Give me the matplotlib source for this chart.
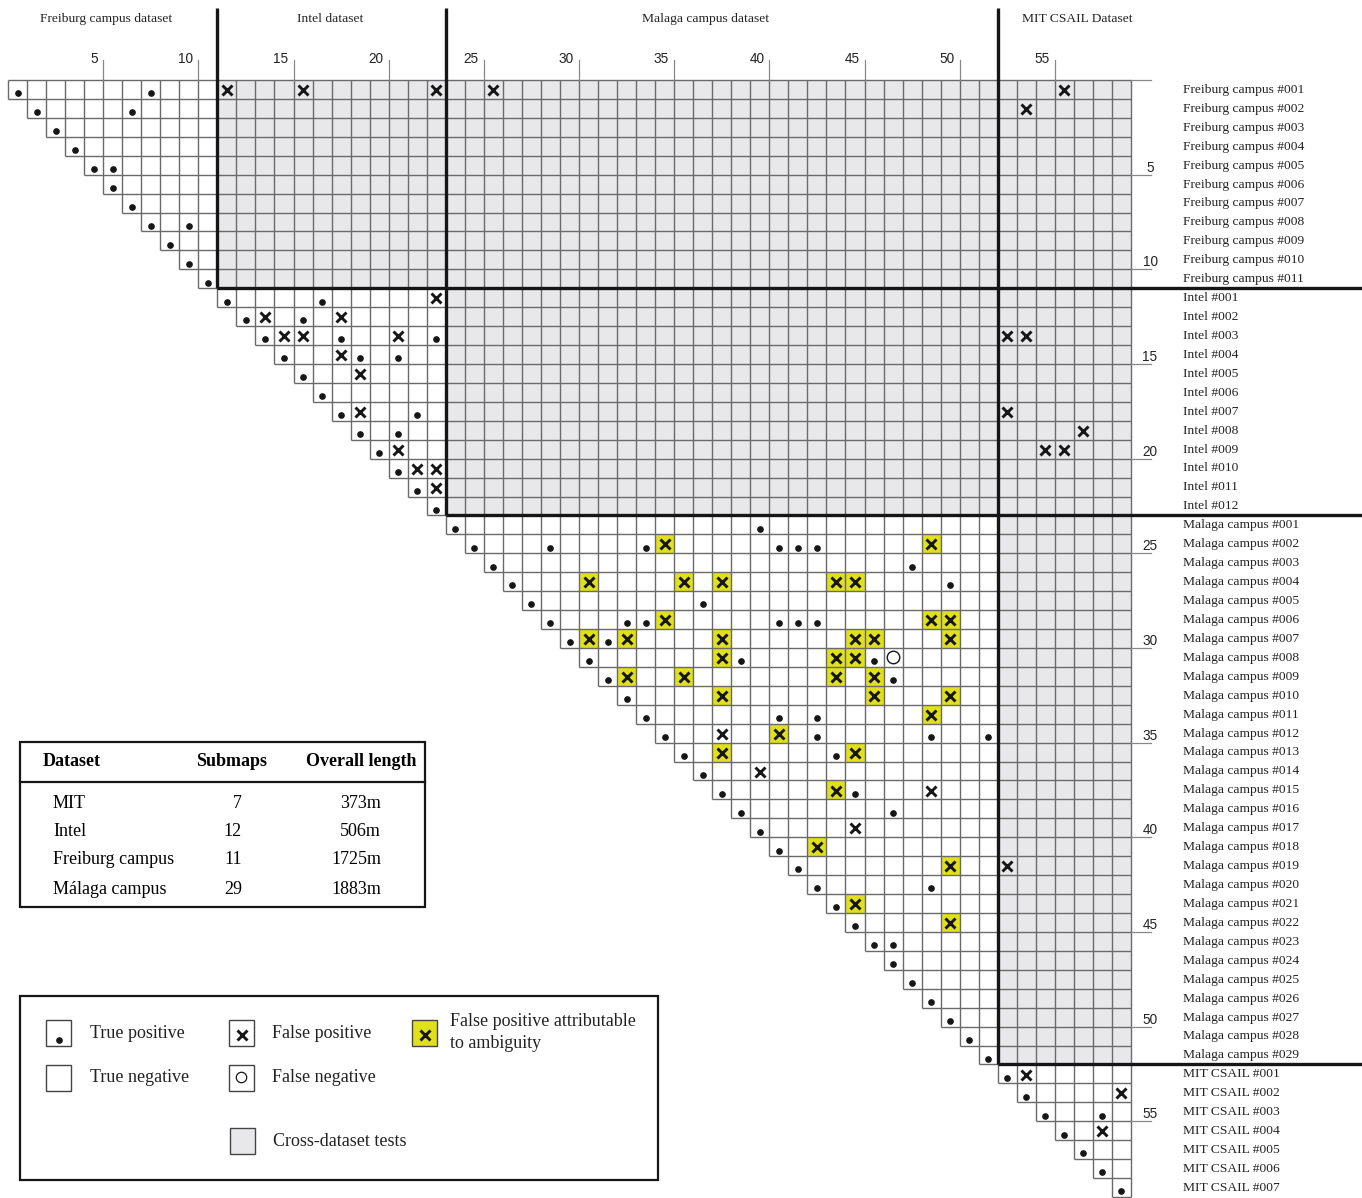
import matplotlib
matplotlib.use("Agg")
import matplotlib.pyplot as plt
from matplotlib.patches import Rectangle
from matplotlib.collections import LineCollection, PatchCollection

# submaps are numbered 1..59 in this dataset order
datasets = ["Freiburg campus", "Intel", "Malaga campus", "MIT CSAIL"]
headers = ["Freiburg campus dataset", "Intel dataset", "Malaga campus dataset", "MIT CSAIL Dataset"]
submaps = [11, 12, 29, 7]

# test outcomes, (row submap, column submap)
true_positive = [
    (1, 1), (1, 8), (2, 2), (2, 7), (3, 3), (4, 4), (5, 5), (5, 6), (6, 6), (7, 7),
    (8, 8), (8, 10), (9, 9), (10, 10), (11, 11),
    (12, 12), (12, 17), (13, 13), (13, 16), (14, 14), (14, 18), (14, 23), (15, 15),
    (15, 19), (15, 21), (16, 16), (17, 17), (18, 18), (18, 22), (19, 19), (19, 21),
    (20, 20), (21, 21), (22, 22), (23, 23),
    (24, 24), (24, 40), (25, 25), (25, 29), (25, 34), (25, 41), (25, 42), (25, 43),
    (26, 26), (26, 48), (27, 27), (27, 50), (28, 28), (28, 37), (29, 29), (29, 33),
    (29, 34), (29, 41), (29, 42), (29, 43), (30, 30), (30, 32), (31, 31), (31, 39),
    (31, 46), (32, 32), (32, 47), (33, 33), (34, 34), (34, 41), (34, 43), (35, 35),
    (35, 43), (35, 49), (35, 52), (36, 36), (36, 44), (37, 37), (38, 38), (38, 45),
    (39, 39), (39, 47), (40, 40), (41, 41), (42, 42), (43, 43), (43, 49), (44, 44),
    (45, 45), (46, 46), (46, 47), (47, 47), (48, 48), (49, 49), (50, 50), (51, 51),
    (52, 52),
    (53, 53), (54, 54), (55, 55), (55, 58), (56, 56), (57, 57), (58, 58), (59, 59),
]
false_positive = [
    (1, 12), (1, 16), (1, 23), (1, 26), (1, 56), (2, 54),
    (12, 23), (13, 14), (13, 18), (14, 15), (14, 16), (14, 21), (14, 53), (14, 54),
    (15, 18), (16, 19), (18, 19), (18, 53), (19, 57), (20, 21), (20, 55), (20, 56),
    (21, 22), (21, 23), (22, 23),
    (35, 38), (37, 40), (38, 49), (40, 45), (42, 53),
    (53, 54), (54, 59), (56, 58),
]
false_positive_ambiguous = [
    (25, 35), (25, 49), (27, 31), (27, 36), (27, 38), (27, 44), (27, 45), (29, 35),
    (29, 49), (29, 50), (30, 31), (30, 33), (30, 38), (30, 45), (30, 46), (30, 50),
    (31, 38), (31, 44), (31, 45), (32, 33), (32, 36), (32, 44), (32, 46), (33, 38),
    (33, 46), (33, 50), (34, 49), (35, 41), (36, 38), (36, 45), (38, 44), (41, 43),
    (42, 50), (44, 45), (45, 50),
]
false_negative = [(31, 47)]

# summary table
table_names = ["MIT", "Intel", "Freiburg campus", "Málaga campus"]
table_submaps = [7, 12, 11, 29]
table_lengths = ["373m", "506m", "1725m", "1883m"]

SERIF = ["Liberation Serif", "DejaVu Serif"]
SANS = ["Liberation Sans", "DejaVu Sans"]
GRID = "#6a6a6a"
INK = "#161616"
CROSS = "#e8e8ea"
YELLOW = "#e0e01c"

W, H = 1362, 1198
n = sum(submaps)
X0, Y0 = 8, 80
CW, RH = 1123 / n, 1117 / n


def cx(p):
    return 0.5 + (p - X0) / CW


def ry(p):
    return 0.5 + (p - Y0) / RH


owner = []
for g, k in enumerate(submaps):
    owner += [g] * k
edges = []
acc = 0
for k in submaps:
    acc += k
    edges.append(acc)

fig = plt.figure(figsize=(W / 100, H / 100), dpi=100)
ax = fig.add_axes([0, 0, 1, 1])
ax.set_xlim(cx(0), cx(W))
ax.set_ylim(ry(H), ry(0))
ax.axis("off")

# cross-dataset cells
gray = [Rectangle((c - 0.5, r - 0.5), 1, 1)
        for r in range(1, n + 1) for c in range(r, n + 1) if owner[r - 1] != owner[c - 1]]
ax.add_collection(PatchCollection(gray, facecolor=CROSS, edgecolor="none", zorder=1))
amb = [Rectangle((c - 0.5, r - 0.5), 1, 1) for r, c in false_positive_ambiguous]
ax.add_collection(PatchCollection(amb, facecolor=YELLOW, edgecolor="none", zorder=1.5))

# upper-triangular grid
segs = []
for k in range(n + 1):
    segs.append([(max(k, 1) - 0.5, k + 0.5), (n + 0.5, k + 0.5)])
    segs.append([(k + 0.5, 0.5), (k + 0.5, min(k + 1, n) + 0.5)])
ax.add_collection(LineCollection(segs, colors=GRID, linewidths=1.0, zorder=2))

# dataset separators
for e in edges[:-1]:
    ax.plot([e + 0.5, e + 0.5], [ry(8), e + 0.5], color=INK, lw=2.4, zorder=3,
            solid_capstyle="butt")
    ax.plot([e + 0.5, cx(W)], [e + 0.5, e + 0.5], color=INK, lw=2.4, zorder=3,
            solid_capstyle="butt")

# headers
head_x = [cx(106), cx(330), cx(706), cx(1077)]
for hx, t in zip(head_x, headers):
    ax.text(hx, ry(19), t, ha="center", va="center", fontsize=9.7, family=SERIF,
            color="#222")

# column ticks
for k in range(5, n, 5):
    ax.plot([k + 0.5, k + 0.5], [ry(60), 0.5], color="#888", lw=0.9, zorder=2)
    ax.text(k + 0.5 - 5 / CW, ry(63), str(k), ha="right", va="baseline",
            fontsize=9.8, family=SANS, color="#222")

# row ticks
for k in [0] + list(range(5, n, 5)):
    ax.plot([n + 0.5, cx(1151)], [k + 0.5, k + 0.5], color="#888", lw=0.9, zorder=2)
    if k:
        ax.text(cx(1150), k + 0.5 - 3 / RH, str(k), ha="center", va="baseline",
                fontsize=9.8, family=SANS, color="#222")

# row names
r = 1
for name, k in zip(datasets, submaps):
    for i in range(1, k + 1):
        ax.text(cx(1183), r + 0.02, f"{name} #{i:03d}", ha="left", va="center",
                fontsize=9.7, family=SERIF, color="#222")
        r += 1

# outcomes
ax.plot([c for r, c in true_positive], [r + 0.2 for r, c in true_positive], "o",
        ms=3.8, color=INK, ls="none", zorder=4)
xs = false_positive + false_positive_ambiguous
ax.plot([c for r, c in xs], [r + 0.03 for r, c in xs], "x", ms=7.5, mew=2.1,
        color=INK, ls="none", zorder=4)
ax.plot([c for r, c in false_negative], [r for r, c in false_negative], "o",
        ms=9, mfc="white", mec=INK, mew=1.0, ls="none", zorder=4)

# table and legend, in pixel space
ax2 = fig.add_axes([0, 0, 1, 1])
ax2.set_xlim(0, W)
ax2.set_ylim(H, 0)
ax2.axis("off")
ax2.patch.set_alpha(0)

ax2.add_patch(Rectangle((20, 742), 405, 165, fill=False, ec=INK, lw=1.6))
ax2.plot([20, 425], [782, 782], color=INK, lw=1.6)
ax2.text(43, 762, "Dataset", ha="left", va="center", fontsize=13, weight="bold", family=SERIF)
ax2.text(232, 762, "Submaps", ha="center", va="center", fontsize=13, weight="bold", family=SERIF)
ax2.text(361, 762, "Overall length", ha="center", va="center", fontsize=13, weight="bold",
         family=SERIF)
for y, a, b, c in zip([803, 831, 860, 889], table_names, table_submaps, table_lengths):
    ax2.text(53, y, a, ha="left", va="center", fontsize=13, family=SERIF)
    ax2.text(242, y, str(b), ha="right", va="center", fontsize=13, family=SERIF)
    ax2.text(381, y, c, ha="right", va="center", fontsize=13, family=SERIF)

ax2.add_patch(Rectangle((20, 996), 638, 184, fill=False, ec=INK, lw=1.6))
boxes = [(46, 1020, "white"), (46, 1065, "white"), (229, 1020, "white"),
         (229, 1065, "white"), (412, 1020, YELLOW), (230, 1128, CROSS)]
for bx, by, fc in boxes:
    ax2.add_patch(Rectangle((bx, by), 25, 26, fc=fc, ec="#444", lw=1.0))
ax2.plot([58.5], [1040], "o", ms=3.8, color=INK)
ax2.plot([241.5], [1035], "x", ms=7.5, mew=2.1, color=INK)
ax2.plot([424.5], [1035], "x", ms=7.5, mew=2.1, color=INK)
ax2.plot([241], [1077], "o", ms=7.5, mfc="white", mec=INK, mew=0.9)
legend_text = [(90, 1033, "True positive"), (90, 1078, "True negative"),
               (272, 1033, "False positive"), (272, 1078, "False negative"),
               (450, 1022, "False positive attributable"), (450, 1043, "to ambiguity"),
               (273, 1142, "Cross-dataset tests")]
for tx, ty, t in legend_text:
    ax2.text(tx, ty, t, ha="left", va="center", fontsize=13, family=SERIF, color="#222")

fig.savefig("out.png", dpi=100)
